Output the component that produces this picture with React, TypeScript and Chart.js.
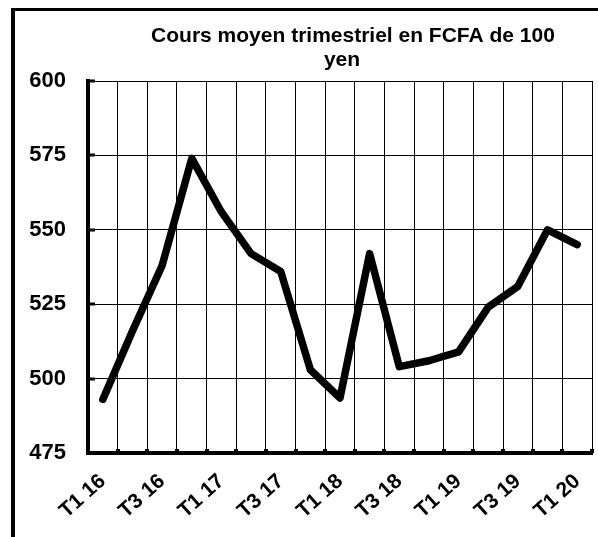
import React, { useEffect, useRef } from "react";
import { Chart, registerables } from "chart.js";

Chart.register(...registerables);

const categories = [
  "T1 16", "T2 16", "T3 16", "T4 16",
  "T1 17", "T2 17", "T3 17", "T4 17",
  "T1 18", "T2 18", "T3 18", "T4 18",
  "T1 19", "T2 19", "T3 19", "T4 19",
  "T1 20",
];
const values = [493, 516, 538, 574, 556, 542, 536, 503, 493.5, 542, 504, 506, 509, 524, 531, 550, 545];
const titleLines = ["Cours moyen trimestriel en FCFA de 100", "yen"];
const yMin = 475;
const yMax = 600;
const yStep = 25;

const FONT = "'Liberation Sans', Arial, sans-serif";

const decor = {
  id: "decor",
  beforeDraw(chart: any) {
    const ctx = chart.ctx;
    ctx.save();
    ctx.fillStyle = "#fff";
    ctx.fillRect(0, 0, chart.width, chart.height);
    ctx.fillStyle = "#000";
    // outer frame (left + top)
    ctx.fillRect(11, 8, 4, chart.height - 8);
    ctx.fillRect(11, 8, chart.width - 11, 3);
    // title
    ctx.font = `bold 21px ${FONT}`;
    ctx.textAlign = "center";
    ctx.textBaseline = "middle";
    ctx.fillText(titleLines[0], 353, 36);
    ctx.fillText(titleLines[1], 342, 60);
    ctx.restore();
  },
  afterDraw(chart: any) {
    const ctx = chart.ctx;
    const xs = chart.scales.x;
    const ys = chart.scales.y;
    ctx.save();
    ctx.fillStyle = "#000";
    const n = categories.length;
    const w = (xs.right - xs.left) / n;
    for (let i = 1; i <= n; i++) {
      const px = Math.round(xs.left + i * w);
      ctx.fillRect(px - 2, ys.bottom - 4, 4, 4);
    }
    for (let v = yMin; v <= yMax; v += yStep) {
      const py = Math.round(ys.getPixelForValue(v));
      ctx.fillRect(xs.left - 2, py - 1.5, 9, 3);
    }
    ctx.restore();
  },
};

export default function App() {
  const ref = useRef<HTMLCanvasElement | null>(null);
  useEffect(() => {
    if (!ref.current) return;
    const chart = new Chart(ref.current, {
      type: "line",
      data: {
        labels: categories,
        datasets: [
          {
            data: values,
            borderColor: "#000",
            borderWidth: 7.5,
            borderJoinStyle: "round",
            borderCapStyle: "round",
            pointRadius: 0,
            tension: 0,
            fill: false,
          },
        ],
      },
      options: {
        animation: false,
        responsive: false,
        devicePixelRatio: 1,
        layout: { padding: { left: 0, right: 6, top: 81, bottom: 0 } },
        plugins: {
          legend: { display: false },
          title: { display: false },
          tooltip: { enabled: false },
        },
        scales: {
          x: {
            type: "category",
            offset: true,
            grid: { offset: true, color: "#000", lineWidth: 1, drawTicks: false },
            border: { display: true, color: "#000", width: 4 },
            ticks: {
              autoSkip: false,
              minRotation: 42,
              maxRotation: 42,
              padding: 16,
              color: "#000",
              font: { family: FONT, size: 21, weight: "bold" },
              callback: (_v: any, i: number) => (i % 2 === 0 ? categories[i] : ""),
            },
            afterFit: (s: any) => {
              s.height = 84;
              s.paddingLeft = 0;
              s.paddingRight = 0;
            },
          },
          y: {
            min: yMin,
            max: yMax,
            grid: { color: "#000", lineWidth: 1, drawTicks: false },
            border: { display: true, color: "#000", width: 4 },
            ticks: {
              stepSize: yStep,
              padding: 22,
              color: "#000",
              font: { family: FONT, size: 22, weight: "bold" },
            },
            afterFit: (s: any) => {
              s.width = 88;
              s.paddingTop = 0;
              s.paddingBottom = 0;
            },
          },
        },
      },
      plugins: [decor],
    });
    return () => chart.destroy();
  }, []);
  return (
    <div style={{ position: "fixed", left: 0, top: 0, width: 598, height: 537 }}>
      <canvas ref={ref} width={598} height={537} style={{ display: "block", width: 598, height: 537 }} />
    </div>
  );
}
